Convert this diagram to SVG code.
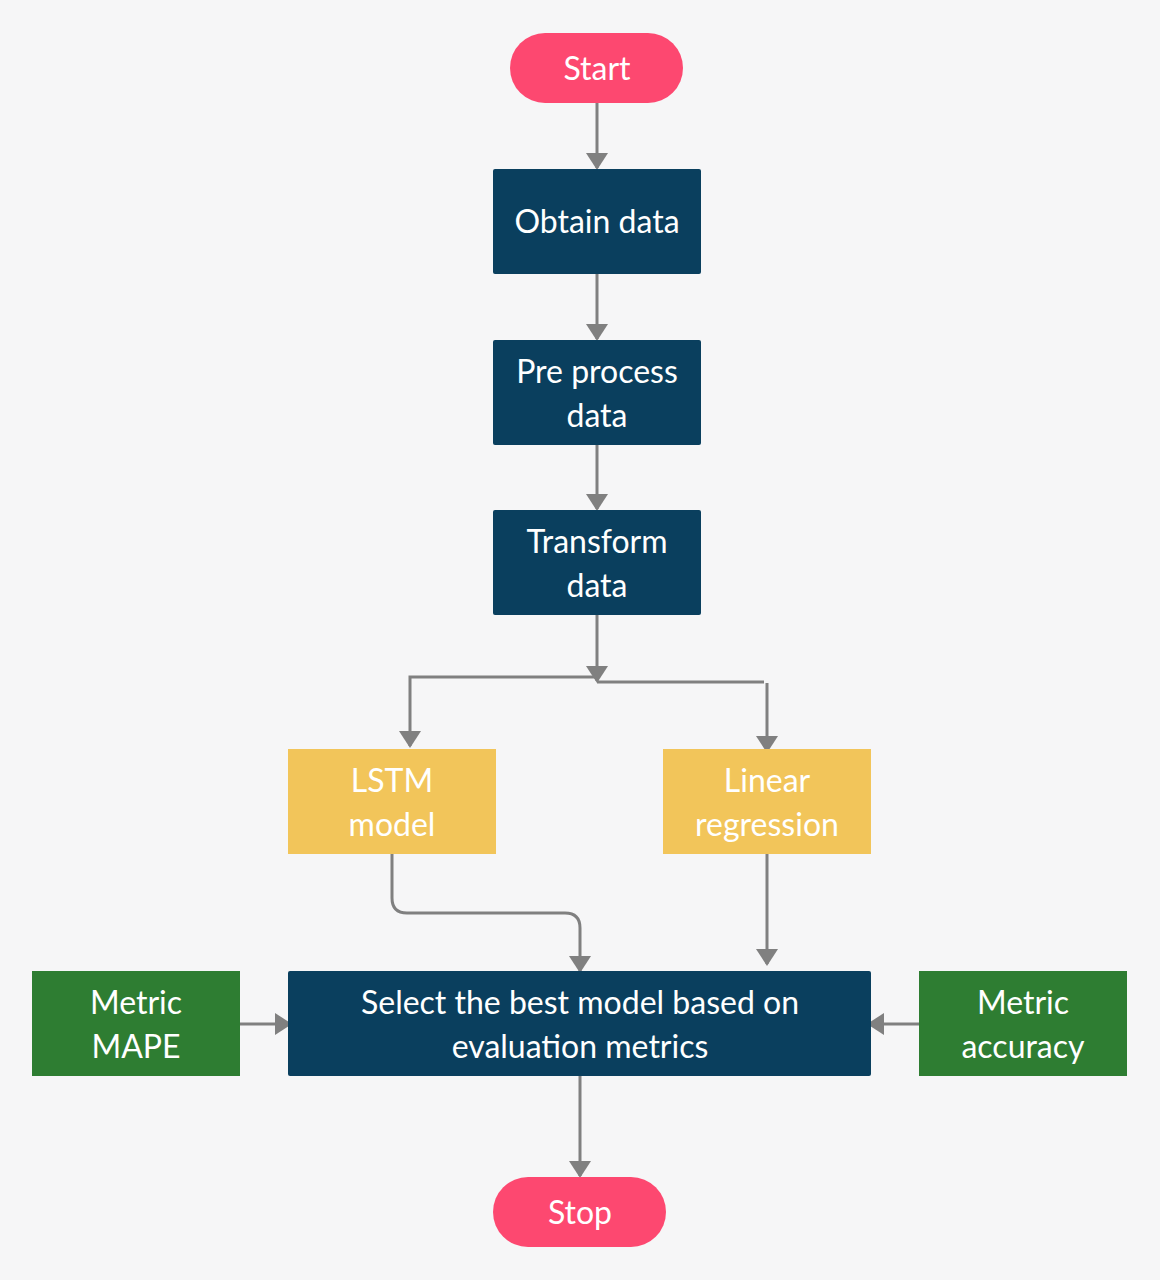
<svg xmlns="http://www.w3.org/2000/svg" width="1160" height="1280" viewBox="0 0 1160 1280">
<defs>
<marker id="ah" viewBox="0 0 22 17" markerWidth="22" markerHeight="17" refX="11" refY="15" orient="0" markerUnits="userSpaceOnUse">
<path d="M0,0 L22,0 L11,17 Z" fill="#808080"/>
</marker>
<marker id="ahr" viewBox="0 0 17 22" markerWidth="17" markerHeight="22" refX="15" refY="11" orient="0" markerUnits="userSpaceOnUse">
<path d="M0,0 L17,11 L0,22 Z" fill="#808080"/>
</marker>
<marker id="ahl" viewBox="0 0 17 22" markerWidth="17" markerHeight="22" refX="2" refY="11" orient="0" markerUnits="userSpaceOnUse">
<path d="M17,0 L0,11 L17,22 Z" fill="#808080"/>
</marker>
</defs>
<style>
.bg{fill:#f6f6f7}
.dark{fill:#0a3f5e}
.pink{fill:#fd4870}
.yellow{fill:#f2c55a}
.green{fill:#2e7d32}
.t{font-family:Lato,"Liberation Sans",sans-serif;font-size:32px;fill:#ffffff;text-anchor:middle}
.c{fill:none;stroke:#808080;stroke-width:3}
</style>
<rect class="bg" x="0" y="0" width="1160" height="1280"/>
<g id="connectors">
<path class="c" d="M597,103 V168" marker-end="url(#ah)"/>
<path class="c" d="M597,274 V339" marker-end="url(#ah)"/>
<path class="c" d="M597,445 V509" marker-end="url(#ah)"/>
<path class="c" d="M597,615 V681" marker-end="url(#ah)"/>
<path class="c" d="M597,677 H410 V746" marker-end="url(#ah)"/>
<path class="c" d="M597,682 H764"/>
<path class="c" d="M767,683 V751" marker-end="url(#ah)"/>
<path class="c" d="M392,854 V898 Q392,913 407,913 H565 Q580,913 580,928 V971" marker-end="url(#ah)"/>
<path class="c" d="M767,854 V964" marker-end="url(#ah)"/>
<path class="c" d="M240,1024 H290" marker-end="url(#ahr)"/>
<path class="c" d="M919,1024 H869" marker-end="url(#ahl)"/>
<path class="c" d="M580,1076 V1176" marker-end="url(#ah)"/>
</g>
<g id="start">
<rect class="pink" x="510" y="33" width="173" height="70" rx="35"/>
<text class="t" x="597" y="80">Start</text>
</g>
<g id="obtain">
<rect class="dark" x="493" y="169" width="208" height="105" rx="2"/>
<text class="t" x="597" y="233">Obtain data</text>
</g>
<g id="preprocess">
<rect class="dark" x="493" y="340" width="208" height="105" rx="2"/>
<text class="t" x="597" y="383">Pre process</text>
<text class="t" x="597" y="427">data</text>
</g>
<g id="transform">
<rect class="dark" x="493" y="510" width="208" height="105" rx="2"/>
<text class="t" x="597" y="553">Transform</text>
<text class="t" x="597" y="597">data</text>
</g>
<g id="lstm">
<rect class="yellow" x="288" y="749" width="208" height="105"/>
<text class="t" x="392" y="792">LSTM</text>
<text class="t" x="392" y="836">model</text>
</g>
<g id="linear">
<rect class="yellow" x="663" y="749" width="208" height="105"/>
<text class="t" x="767" y="792">Linear</text>
<text class="t" x="767" y="836">regression</text>
</g>
<g id="select">
<rect class="dark" x="288" y="971" width="583" height="105" rx="2"/>
<text class="t" x="580" y="1014">Select the best model based on</text>
<text class="t" x="580" y="1058">evaluation metrics</text>
</g>
<g id="mape">
<rect class="green" x="32" y="971" width="208" height="105"/>
<text class="t" x="136" y="1014">Metric</text>
<text class="t" x="136" y="1058">MAPE</text>
</g>
<g id="accuracy">
<rect class="green" x="919" y="971" width="208" height="105"/>
<text class="t" x="1023" y="1014">Metric</text>
<text class="t" x="1023" y="1058">accuracy</text>
</g>
<g id="stop">
<rect class="pink" x="493" y="1177" width="173" height="70" rx="35"/>
<text class="t" x="580" y="1224">Stop</text>
</g>
</svg>
